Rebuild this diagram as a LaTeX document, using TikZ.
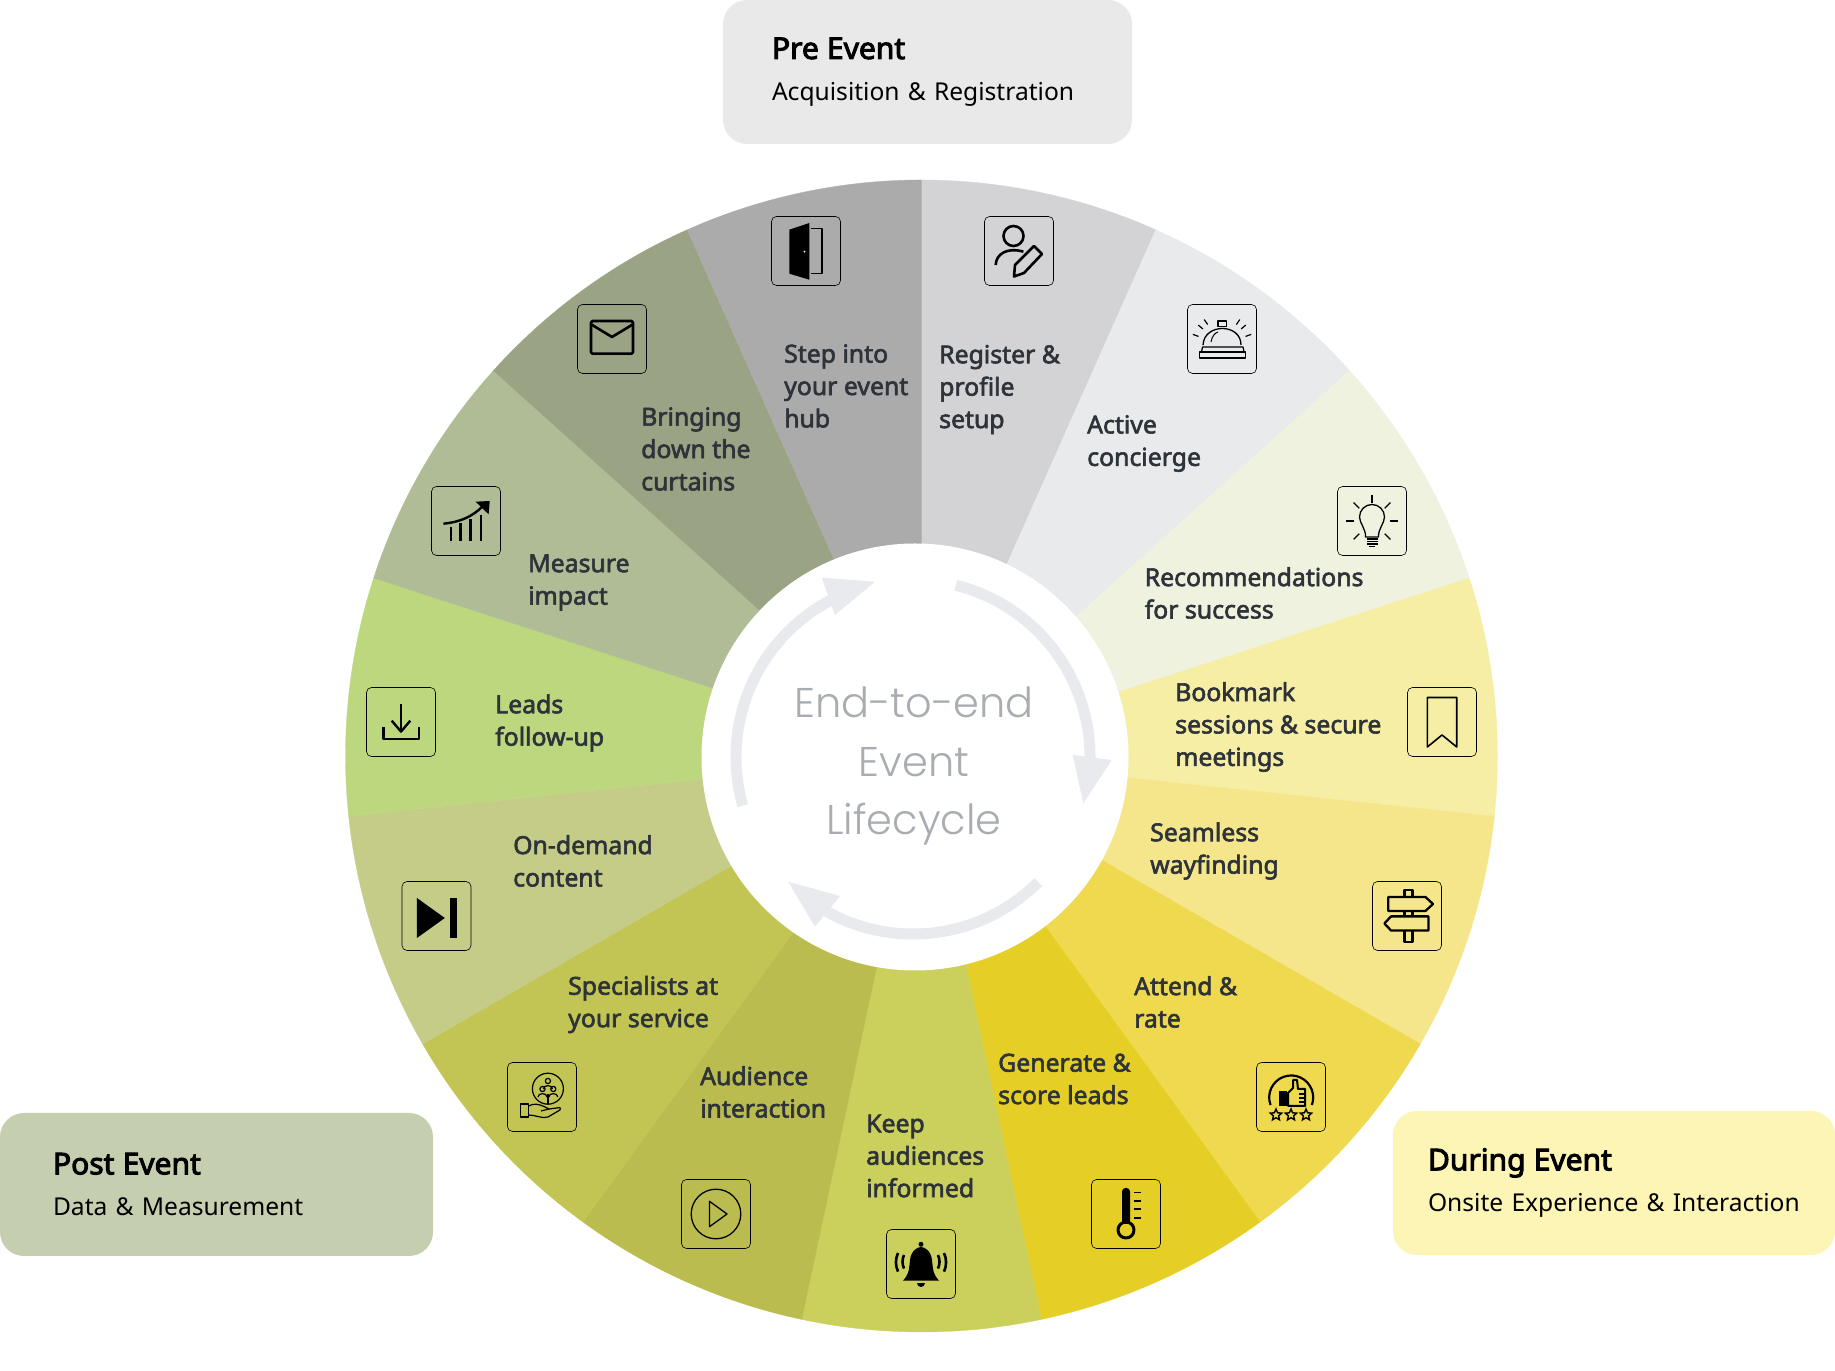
\documentclass[tikz,border=0pt]{standalone}
\usepackage{fontspec}
\setmainfont{Noto Sans}
\newfontfamily\labfont{Noto Sans}[FakeBold=2.4]
\newfontfamily\titlefont{Noto Sans}[FakeBold=3.2]
\newfontfamily\hubfont{Poppins Light}
\usetikzlibrary{shapes.geometric, calc}

\definecolor{regcol}{HTML}{D3D3D5}
\definecolor{actcol}{HTML}{E9EAEB}
\definecolor{reccol}{HTML}{F0F2E0}
\definecolor{bkmcol}{HTML}{F6EEA5}
\definecolor{seacol}{HTML}{F5E68C}
\definecolor{attcol}{HTML}{EFD94F}
\definecolor{gencol}{HTML}{E5CF27}
\definecolor{keecol}{HTML}{CBCF5C}
\definecolor{audcol}{HTML}{BABC4F}
\definecolor{spccol}{HTML}{C2C553}
\definecolor{demcol}{HTML}{C4CC87}
\definecolor{leacol}{HTML}{BDD77F}
\definecolor{meacol}{HTML}{AFBC95}
\definecolor{brgcol}{HTML}{9AA384}
\definecolor{stpcol}{HTML}{ABABAB}
\definecolor{labcol}{HTML}{2D3339}
\definecolor{hubcol}{HTML}{A9ADB1}
\definecolor{ringcol}{HTML}{E8EAED}
\definecolor{precol}{HTML}{E9E9E9}
\definecolor{postcol}{HTML}{C5CEAE}
\definecolor{durcol}{HTML}{FDF5B5}

\newcommand{\phasetitle}[1]{{\titlefont\fontsize{30}{41.5}\selectfont #1}}

\begin{document}
\begin{tikzpicture}[x=1pt,y=1pt,
				   every node/.style={inner sep=0pt},
				   seglabel/.style={anchor=west, align=left, text=labcol, font=\labfont\fontsize{24.8}{32.4}\selectfont},
				   iconbox/.style={draw=black, line width=.6pt, rounded corners=5pt, minimum size=69pt},
				   icon/.style={line width=#1pt, line join=round, black},
				   phasebox/.style n args={3}{fill=#1, rounded corners=24pt, minimum width=#2pt, text width=#2pt-2*#3pt, inner xsep=#3pt, align=left, font=\fontsize{24.6}{41.5}\selectfont},
				   hubarrow/.style={draw=ringcol, line width=11pt},
				   hubtip/.style={fill=ringcol}]
\useasboundingbox (0,0) rectangle (1835,1370);
\coordinate (wheel) at (921.5,614);
\coordinate (ring) at (913,613);

\foreach \col [count=\i from 0] in {regcol,actcol,reccol,bkmcol,seacol,attcol,gencol,keecol,audcol,spccol,demcol,leacol,meacol,brgcol,stpcol}{
	\pgfmathsetmacro{\a}{90-24*\i}
	\fill[fill=\col, draw=\col, line width=.3pt] (wheel) -- +(\a:576) arc[start angle=\a, delta angle=-24, radius=576] -- cycle;
}

\node[circle, fill=white, minimum size=427pt] (hub) at (915,613) {};
\node[align=center, text=hubcol, font=\hubfont\fontsize{41.5}{58.5}\selectfont] (hubtext) at (914,604) {End-to-end\\Event\\Lifecycle};
\draw[hubarrow] (ring) ++(76:177) arc[start angle=76, end angle=-2, radius=177];
\fill[hubtip] (1072.7,615) -- (1111.7,610) -- (1083.3,566.7) -- cycle;
\draw[hubarrow] (ring) ++(-45:177) arc[start angle=-45, end angle=-122, radius=177];
\fill[hubtip] (788.3,488.3) -- (840,474) -- (815,443.3) -- cycle;
\draw[hubarrow] (ring) ++(196:177) arc[start angle=196, end angle=115, radius=177];
\fill[hubtip] (875,788.3) -- (821.7,792.3) -- (835,755) -- cycle;

\node[phasebox={precol}{409}{49}] (pre) at (927.5,1298) [minimum height=144pt] {\phasetitle{Pre Event}\\Acquisition \& Registration};
\node[phasebox={postcol}{433}{53}] (post) at (216.5,185.5) [minimum height=143pt] {\phasetitle{Post Event}\\Data \& Measurement};
\node[phasebox={durcol}{442}{35}] (during) at (1614,187) [minimum height=144pt] {\phasetitle{During Event}\\Onsite Experience \& Interaction};

\node[seglabel] (lstep) at (784,984) {Step into\\your event\\hub};
\node[seglabel] (lreg) at (939,980.5) {Register \&\\profile\\setup};
\node[seglabel] (lact) at (1087,926.5) {Active\\concierge};
\node[seglabel] (lrec) at (1144.5,777) {Recommendations\\for success};
\node[seglabel] (lbkm) at (1175,643) {Bookmark\\sessions \& secure\\meetings};
\node[seglabel] (lsea) at (1150,519) {Seamless\\wayfinding};
\node[seglabel] (latt) at (1134,368) {Attend \&\\rate};
\node[seglabel] (lgen) at (998,291) {Generate \&\\score leads};
\node[seglabel] (lkee) at (866,214) {Keep\\audiences\\informed};
\node[seglabel] (laud) at (700,278) {Audience\\interaction};
\node[seglabel] (lspc) at (568,365.5) {Specialists at\\your service};
\node[seglabel] (ldem) at (513,509) {On-demand\\content};
\node[seglabel] (llea) at (495,647) {Leads\\follow-up};
\node[seglabel] (lmea) at (528,787.5) {Measure\\impact};
\node[seglabel] (lbrg) at (641,921) {Bringing\\down the\\curtains};

\node[iconbox] (door) at (806,1119) {};
\node[iconbox] (person) at (1019,1119) {};
\node[iconbox] (service) at (1222,1031) {};
\node[iconbox] (bulb) at (1372,849) {};
\node[iconbox] (bookmark) at (1442,648) {};
\node[iconbox] (sign) at (1407,454) {};
\node[iconbox] (thumbs) at (1291,273) {};
\node[iconbox] (thermo) at (1126,156) {};
\node[iconbox] (bell) at (921,106) {};
\node[iconbox] (play) at (716,156) {};
\node[iconbox] (hand) at (542,273) {};
\node[iconbox] (skip) at (436.5,454) {};
\node[iconbox] (download) at (401,648) {};
\node[iconbox] (chart) at (466,849) {};
\node[iconbox] (mail) at (612,1031) {};

\begin{scope}[shift={(door.center)}]
	\fill[black] (-16.7,21.3) -- (3.3,28) -- (3.3,-28.7) -- (-16.7,-22.7) -- cycle;
	\draw[icon=1.6] (4.8,22.3) -- (16,22.3) -- (16,-22.7) -- (4.8,-22.7);
	\fill[white] (-1.5,-.7) circle (1);
\end{scope}
\begin{scope}[shift={(person.center)}]
	\draw[icon=2.6] (-5.5,15) circle (10);
	\draw[icon=2.6] (-23.3,-14) .. controls (-23,-3) and (-12,4) .. (4.4,-.7);
	\draw[icon=2.6] (-5,-25.5) -- (-4,-14) -- (15,5) -- (23,-3) -- (5,-22) -- cycle;
\end{scope}
\begin{scope}[shift={(service.center)}]
	\draw[icon=1.3] (-22.5,-19) rectangle (23.5,-13);
	\draw[icon=1.3] (-20.5,-13) -- (-19.5,-8) -- (21,-8) -- (22,-13);
	\draw[icon=1.3] (-19,-6) .. controls (-18,16) and (19,16) .. (19,-6);
	\draw[icon=1.3] (-4,12.7) rectangle (4.5,18);
	\draw[icon=1] (-11,-3) .. controls (-10,3) and (-7,6) .. (-4,7);
	\foreach \ang in {125,140,160,20,40,55}{
		\draw[icon=1.2] ($(0,-6)+(\ang:25)$) -- ($(0,-6)+(\ang:31)$);
	}
\end{scope}
\begin{scope}[shift={(bulb.center)}]
	\foreach \ang in {0,45,90,135,180,225,315}{
		\draw[icon=1.2] (\ang:18) -- (\ang:26);
	}
	\draw[icon=1.3] (-6.5,-16) .. controls (-6,-8) and (-12.5,-2) .. (-12.5,4) arc[start angle=180, end angle=0, radius=12.5] .. controls (12.5,-2) and (6,-8) .. (6.5,-16) -- cycle;
	\foreach \yy in {-18,-20.5,-23}{
		\draw[icon=1.6] (-5.5,\yy) -- (5.5,\yy);
	}
	\draw[icon=1.6] (-3,-25.5) -- (3,-25.5);
\end{scope}
\begin{scope}[shift={(bookmark.center)}]
	\draw[icon=1.6] (-14.7,24.5) -- (14.7,24.5) -- (14.7,-25) -- (0,-13) -- (-14.7,-25) -- cycle;
\end{scope}
\begin{scope}[shift={(sign.center)}]
	\draw[icon=2.3] (-18.7,19) -- (18.4,19) -- (26,12) -- (18.4,5) -- (-18.7,5) -- cycle;
	\draw[icon=2.3] (21.4,-.4) -- (-16,-.4) -- (-22.6,-7.5) -- (-16,-14.5) -- (21.4,-14.5) -- cycle;
	\draw[icon=2.3] (-2.5,19) -- (-2.5,26) -- (5.5,26) -- (5.5,19);
	\draw[icon=2.3] (-2.5,5) -- (-2.5,-.4);
	\draw[icon=2.3] (5.5,5) -- (5.5,-.4);
	\draw[icon=2.3] (-2.5,-14.5) -- (-2.5,-26) -- (5.5,-26) -- (5.5,-14.5);
\end{scope}
\begin{scope}[shift={(thumbs.center)}]
	\draw[icon=2.2] (-20.5,-8) arc[start angle=200, end angle=-20, radius=22];
	\fill[black] (-12,-9) rectangle (-4,6);
	\draw[icon=2] (-3,4) -- (2,9) -- (2,17) -- (6,17) -- (7,8) -- (14,8) -- (14,-9) -- (-3,-9) -- cycle;
	\foreach \yy in {3,-1,-5}{
		\draw[icon=1.6] (8,\yy) -- (14,\yy);
	}
	\foreach \sx [count=\k] in {-15,0,15}{
		\node[star, star points=5, star point ratio=2.2, draw=black, line width=1.4pt, minimum size=12pt] (st\k) at (\sx,-18) {};
	}
\end{scope}
\begin{scope}[shift={(thermo.center)}]
	\fill[black, rounded corners=3.5pt] (-4,-10) rectangle (4,26);
	\fill[black] (-4,-10) rectangle (4,-6);
	\draw[icon=3] (0,-16) circle (8);
	\foreach \yy in {21.5,12.7,4.8,-4}{
		\draw[icon=1.8] (7.6,\yy) -- (14.5,\yy);
	}
\end{scope}
\begin{scope}[shift={(bell.center)}]
	\fill[black] (0,19.7) circle (2.5);
	\fill[black] (-18,-16.7) .. controls (-11,-9) and (-12,-3) .. (-11,4) .. controls (-10,13) and (-4,17) .. (0,17) .. controls (4,17) and (10,13) .. (11,4) .. controls (12,-3) and (11,-9) .. (18,-16.7) -- cycle;
	\fill[black] (-4,-19) -- (4,-19) arc[start angle=0, end angle=-180, radius=4] -- cycle;
	\draw[icon=2.6] (-17,9) arc[start angle=155, end angle=205, radius=16];
	\draw[icon=2.6] (-23,11) arc[start angle=155, end angle=205, radius=22];
	\draw[icon=2.6] (17,9) arc[start angle=25, end angle=-25, radius=16];
	\draw[icon=2.6] (23,11) arc[start angle=25, end angle=-25, radius=22];
\end{scope}
\begin{scope}[shift={(play.center)}]
	\draw[icon=1.3] (0,0) circle (24.8);
	\draw[icon=1.3] (-6.5,12.7) -- (-6.5,-12.7) -- (11,0) -- cycle;
\end{scope}
\begin{scope}[shift={(hand.center)}]
	\draw[icon=1.2] (5.9,8.3) circle (15.5);
	\foreach \hx/\hy in {5.9/16,0.5/8,11.3/8}{
		\draw[icon=1.2] (\hx,\hy) circle (2.6);
		\draw[icon=1.2] (\hx-4.5,\hy-8) .. controls (\hx-4.5,\hy-3.5) and (\hx+4.5,\hy-3.5) .. (\hx+4.5,\hy-8);
	}
	\draw[icon=1.2] (5.9,3) -- (5.9,-7);
	\draw[icon=1.2] (-21.4,-7) rectangle (-13.4,-20);
	\draw[icon=1.2] (-13.4,-9) .. controls (-8,-6) and (-3,-7) .. (3,-10) -- (7,-12) -- (-1,-14);
	\draw[icon=1.2] (-13.4,-18) .. controls (-6,-18) and (0,-22) .. (6,-20) -- (18,-13) .. controls (19,-10) and (17,-10) .. (15,-11) -- (7,-12);
\end{scope}
\begin{scope}[shift={(skip.center)}]
	\fill[black] (-19.6,18) -- (-19.6,-22) -- (8.3,-2) -- cycle;
	\fill[black] (13,18) rectangle (20,-22);
\end{scope}
\begin{scope}[shift={(download.center)}]
	\draw[icon=2.4] (0,17.5) -- (0,-9.6);
	\draw[icon=2.4] (-9.3,1.3) -- (0,-9.6) -- (9.3,1.3);
	\draw[icon=2.4] (-17.4,-5.3) -- (-17.4,-17) -- (18,-17) -- (18,-5.3);
\end{scope}
\begin{scope}[shift={(chart.center)}]
	\draw[icon=2.2] (-15,-20) -- (-15,-6);
	\draw[icon=2.2] (-5.5,-20) -- (-5.5,-2);
	\draw[icon=2.2] (4.4,-20) -- (4.4,2);
	\draw[icon=2.2] (14.8,-20) -- (14.8,6);
	\draw[icon=2.4] (-22.6,-2.7) .. controls (-6,-1) and (6,4) .. (17,15);
	\fill[black] (9.6,19.3) -- (23.7,20) -- (22.6,6.7) -- cycle;
\end{scope}
\begin{scope}[shift={(mail.center)}]
	\draw[icon=2.6, rounded corners=1.5pt] (-21,18) rectangle (21,-14.7);
	\draw[icon=2.6] (-21,14.7) -- (0,2) -- (21,14.7);
\end{scope}
\end{tikzpicture}
\end{document}
